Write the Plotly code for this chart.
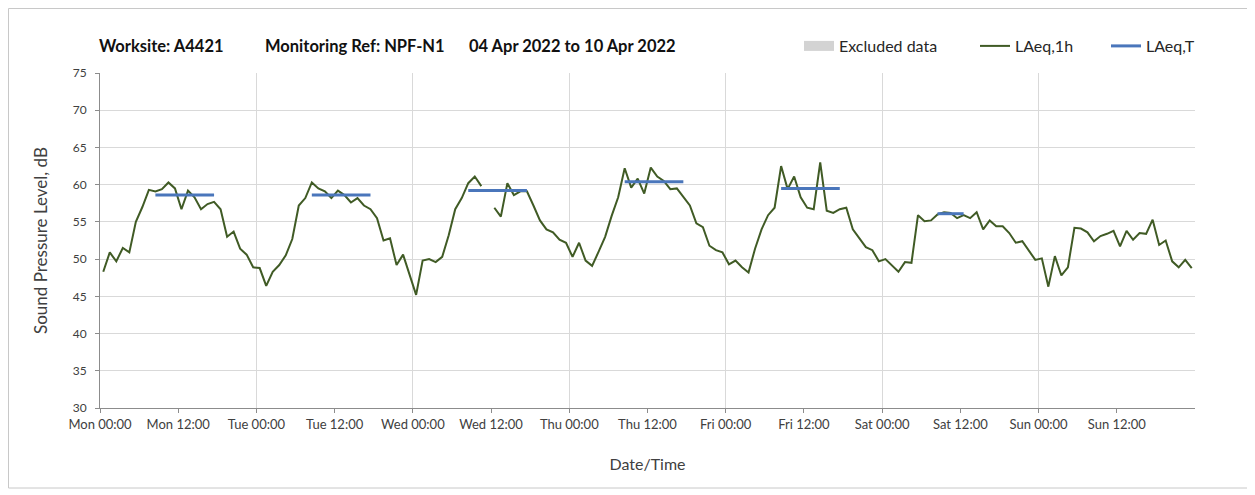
import plotly.graph_objects as go

# ---------------- data ----------------
hours = list(range(168))  # hourly periods from Mon 00:00
laeq_1h = [
    # Mon
    48.3, 50.9, 49.7, 51.5, 50.9, 55.0, 57.0, 59.3, 59.1, 59.4, 60.3, 59.5,
    56.7, 59.2, 58.3, 56.7, 57.4, 57.7, 56.7, 53.0, 53.7, 51.4, 50.6, 48.9,
    # Tue
    48.8, 46.4, 48.3, 49.2, 50.5, 52.7, 57.2, 58.2, 60.3, 59.5, 59.1, 58.2,
    59.2, 58.6, 57.6, 58.2, 57.2, 56.7, 55.5, 52.5, 52.8, 49.2, 50.6, 47.9,
    # Wed
    45.2, 49.8, 50.0, 49.6, 50.3, 53.2, 56.7, 58.2, 60.2, 61.1, 59.8, None,
    56.9, 55.7, 60.2, 58.6, 59.1, 59.1, 57.2, 55.2, 54.0, 53.6, 52.6, 52.2,
    # Thu
    50.3, 52.2, 49.8, 49.1, 51.0, 53.0, 55.8, 58.3, 62.2, 59.6, 60.8, 58.8,
    62.3, 61.1, 60.5, 59.4, 59.5, 58.4, 57.2, 54.8, 54.3, 51.8, 51.2, 50.9,
    # Fri
    49.3, 49.8, 48.9, 48.2, 51.4, 54.0, 55.9, 56.9, 62.5, 59.4, 61.1, 58.3,
    56.9, 56.7, 63.0, 56.5, 56.2, 56.7, 56.9, 54.0, 52.8, 51.6, 51.2, 49.7,
    # Sat
    50.0, 49.2, 48.3, 49.6, 49.5, 55.9, 55.1, 55.2, 56.0, 56.3, 56.2, 55.5,
    55.9, 55.5, 56.3, 54.0, 55.2, 54.4, 54.4, 53.5, 52.2, 52.4, 51.2, 49.9,
    # Sun
    50.1, 46.3, 50.4, 47.8, 48.9, 54.2, 54.1, 53.6, 52.4, 53.1, 53.4, 53.8,
    51.7, 53.8, 52.6, 53.5, 53.4, 55.3, 51.9, 52.5, 49.7, 48.9, 49.9, 48.8,
]

# LAeq,T assessment periods (first hour, last hour, value)
period_first_hour = [8, 32, 56, 80, 104, 128]
period_last_hour = [17, 41, 65, 89, 113, 132]
laeq_t = [58.6, 58.6, 59.2, 60.4, 59.5, 56.1]

tick_hours = list(range(0, 168, 12))
tick_labels = ["Mon 00:00", "Mon 12:00", "Tue 00:00", "Tue 12:00", "Wed 00:00",
               "Wed 12:00", "Thu 00:00", "Thu 12:00", "Fri 00:00", "Fri 12:00",
               "Sat 00:00", "Sat 12:00", "Sun 00:00", "Sun 12:00"]
day_boundaries = list(range(24, 168, 24))

title_parts = ["Worksite: A4421", "Monitoring Ref: NPF-N1", "04 Apr 2022 to 10 Apr 2022"]

# ---------------- build ----------------
x_1h = [h + 0.5 for h in hours]

t_x, t_y = [], []
for a, b, v in zip(period_first_hour, period_last_hour, laeq_t):
    for h in range(a, b + 1):
        t_x.append(h + 0.5)
        t_y.append(v)
    t_x.append(None)
    t_y.append(None)

FONT = "Lato"
GREEN = "#405b25"
BLUE = "#4a76bb"
GRID = "#d9d9d9"
AXIS = "#8c8c8c"

# page has an 8px body margin: figure coordinates = page coordinates - 8
OFF = 8
W, H = 1247, 487
L, R, T, B = 100 - OFF, W - (1195 - OFF), 73 - OFF, H - (408 - OFF)
pw = W - L - R
ph = H - T - B


def px_x(page_x):
    return (page_x - OFF - L) / pw


def px_y(page_y):
    return (H - B - (page_y - OFF)) / ph


fig = go.Figure()

fig.add_trace(go.Scatter(
    x=[None], y=[None], name="Excluded data", mode="lines",
    line=dict(width=10, color="#d3d3d3"), legend="legend",
    showlegend=True, hoverinfo="skip"))

fig.add_trace(go.Scatter(
    x=x_1h, y=laeq_1h, name="LAeq,1h", mode="lines", legend="legend2",
    line=dict(color=GREEN, width=2), connectgaps=False))

fig.add_trace(go.Scatter(
    x=t_x, y=t_y, name="LAeq,T", mode="lines", legend="legend3",
    line=dict(color=BLUE, width=3), connectgaps=False))

# invisible trace on overlay axis used for the daily vertical gridlines
fig.add_trace(go.Scatter(x=[0, 168], y=[None, None], xaxis="x2",
                         showlegend=False, hoverinfo="skip", mode="lines"))

leg_font = dict(family=FONT, size=16, color="#262626")


def leg(text_start_page_x):
    return dict(orientation="h", x=px_x(text_start_page_x - 40), xanchor="left",
                y=px_y(46), yanchor="middle", font=leg_font,
                bgcolor="rgba(0,0,0,0)", borderwidth=0)


title_x_page = [97, 263, 467]

fig.update_layout(
    width=W, height=H,
    margin=dict(l=L, r=R, t=T, b=B, autoexpand=False),
    paper_bgcolor="white", plot_bgcolor="white",
    font=dict(family=FONT, color="#404040", size=12),
    showlegend=True,
    legend=leg(839),
    legend2=leg(1015),
    legend3=leg(1146),
    xaxis=dict(range=[0, 168], tickmode="array", tickvals=tick_hours, ticktext=tick_labels,
               showgrid=False, zeroline=False, showline=True, linecolor=AXIS, linewidth=1,
               ticks="outside", ticklen=4, tickcolor=AXIS, automargin=False,
               tickfont=dict(family=FONT, size=13, color="#404040"),
               title=dict(text="Date/Time", font=dict(family=FONT, size=16, color="#404040"),
                          standoff=28)),
    xaxis2=dict(range=[0, 168], overlaying="x", tickmode="array", tickvals=day_boundaries,
                showticklabels=False, showgrid=True, gridcolor=GRID, gridwidth=1,
                zeroline=False, showline=False, ticks=""),
    yaxis=dict(range=[30, 75], dtick=5, tick0=30, showgrid=True, gridcolor=GRID, gridwidth=1,
               zeroline=False, showline=True, linecolor=AXIS, linewidth=1, automargin=False,
               ticks="outside", ticklen=4, tickcolor=AXIS, ticklabelstandoff=6,
               tickfont=dict(family=FONT, size=12, color="#404040"),
               title=dict(text="Sound Pressure Level, dB",
                          font=dict(family=FONT, size=17, color="#404040"), standoff=20)),
    annotations=[dict(text="<b>" + t + "</b>",
                      xref="paper", yref="paper", x=px_x(xp), y=px_y(46),
                      xanchor="left", yanchor="middle", showarrow=False,
                      font=dict(family=FONT, size=16.5, color="#111111"))
                 for t, xp in zip(title_parts, title_x_page)],
    shapes=[dict(type="rect", xref="paper", yref="paper",
                 x0=px_x(8.5), x1=px_x(1251), y0=px_y(488), y1=px_y(8.5),
                 line=dict(color="#c8c8c8", width=1), fillcolor="rgba(0,0,0,0)",
                 layer="below")],
)

fig.write_html("out.html")
